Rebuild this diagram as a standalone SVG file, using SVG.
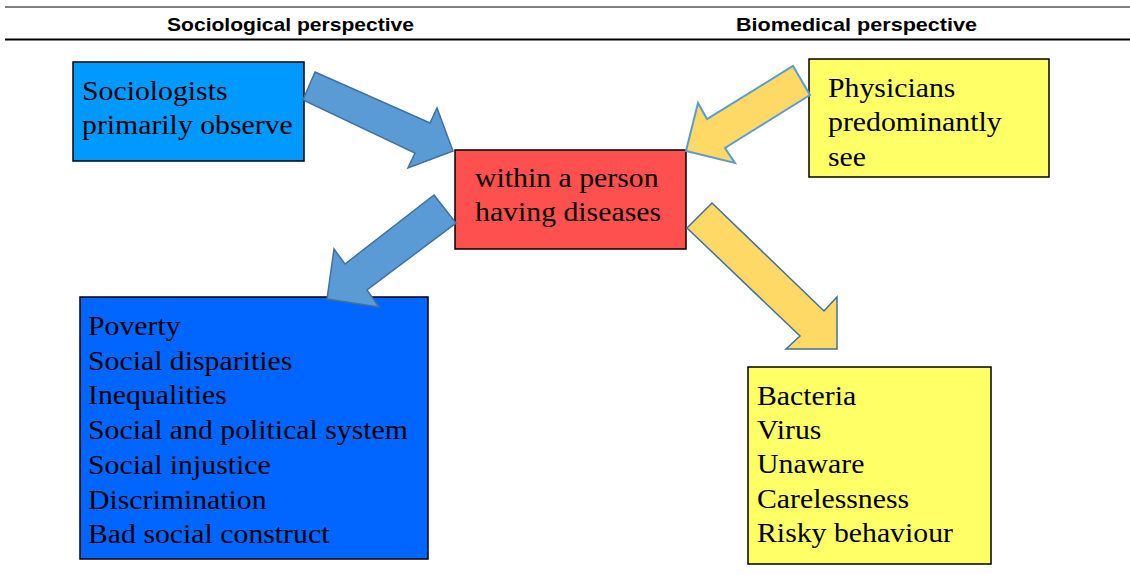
<svg xmlns="http://www.w3.org/2000/svg" width="1130" height="575" viewBox="0 0 1130 575">
<style>
.hdr{font-family:"Liberation Sans",Arial,sans-serif;font-weight:bold;font-size:18.5px;fill:#000}
.t{font-family:"Liberation Serif","Times New Roman",serif;font-size:27.7px;fill:#000}
.box{stroke:#000;stroke-width:1.5}
.ab{fill:#5B9BD5;stroke:#41719C;stroke-width:1.5;stroke-linejoin:miter}
.ay{fill:#FFD966;stroke:#5B9BD5;stroke-width:2;stroke-linejoin:miter}
.ay2{fill:#FFD966;stroke:#41719C;stroke-width:1.5;stroke-linejoin:miter}
</style>
<rect width="1130" height="575" fill="#fff"/>
<g id="header">
<line x1="5" y1="7" x2="1130" y2="7" stroke="#000" stroke-width="1"/>
<line x1="5" y1="39.5" x2="1130" y2="39.5" stroke="#000" stroke-width="2"/>
<text class="hdr" x="167" y="31" textLength="247" lengthAdjust="spacingAndGlyphs">Sociological perspective</text>
<text class="hdr" x="736" y="31" textLength="241" lengthAdjust="spacingAndGlyphs">Biomedical perspective</text>
</g>
<g id="sociologists">
<rect class="box" x="73" y="62" width="231" height="99" fill="#0099FF"/>
<g transform="translate(82,0) scale(1.075,1)">
<text class="t" x="0" y="100">Sociologists</text>
<text class="t" x="0" y="134">primarily observe</text>
</g>
</g>
<g id="center">
<rect class="box" x="455" y="150" width="231" height="99" fill="#FF5050"/>
<g transform="translate(475,0) scale(1.075,1)">
<text class="t" x="0" y="187">within a person</text>
<text class="t" x="0" y="221">having diseases</text>
</g>
</g>
<g id="physicians">
<rect class="box" x="809" y="59" width="240" height="118" fill="#FFFF66"/>
<g transform="translate(828,0) scale(1.075,1)">
<text class="t" x="0" y="97">Physicians</text>
<text class="t" x="0" y="131">predominantly</text>
<text class="t" x="0" y="166">see</text>
</g>
</g>
<g id="social-causes">
<rect class="box" x="80" y="297" width="348" height="262" fill="#0066FF"/>
<g transform="translate(88,0) scale(1.075,1)">
<text class="t" x="0" y="335">Poverty</text>
<text class="t" x="0" y="370">Social disparities</text>
<text class="t" x="0" y="404">Inequalities</text>
<text class="t" x="0" y="439">Social and political system</text>
<text class="t" x="0" y="474">Social injustice</text>
<text class="t" x="0" y="509">Discrimination</text>
<text class="t" x="0" y="543">Bad social construct</text>
</g>
</g>
<g id="bio-causes">
<rect class="box" x="748" y="367" width="243" height="197" fill="#FFFF66"/>
<g transform="translate(757,0) scale(1.075,1)">
<text class="t" x="0" y="405">Bacteria</text>
<text class="t" x="0" y="439">Virus</text>
<text class="t" x="0" y="473">Unaware</text>
<text class="t" x="0" y="508">Carelessness</text>
<text class="t" x="0" y="542">Risky behaviour</text>
</g>
</g>
<g id="connectors">
<polygon class="ab" points="315,72 430,123 437,108 453,151 408,168 415,153 303,100"/>
<polygon class="ay" points="793,66 810,95 725,148 735,163 686,151 698,103 707,119"/>
<polygon class="ab" points="434,195 456,223 367,290 379,307 327,299 334,249 345,264"/>
<polygon class="ay2" points="712,203 824,311 837,297 837,349 786,349 800,336 687,228"/>
</g>
</svg>
